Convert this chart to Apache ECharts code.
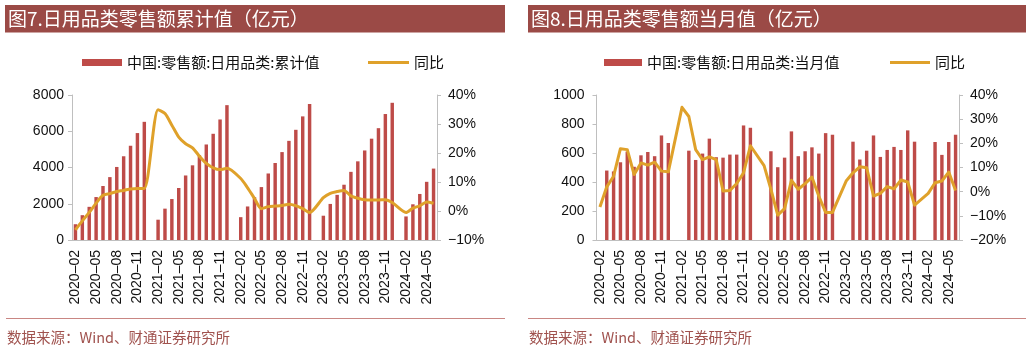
<!DOCTYPE html>
<html>
<head>
<meta charset="utf-8">
<script src="https://cdn.jsdelivr.net/npm/echarts@6/dist/echarts.min.js"></script>
<style>
html,body{margin:0;padding:0;background:#fff;}
#c{width:1032px;height:349px;}
</style>
</head>
<body>
<div id="c"></div>
<script>
const categories = [
  '2020-02','2020-03','2020-04','2020-05','2020-06','2020-07','2020-08','2020-09','2020-10','2020-11','2020-12',
  '2021-01','2021-02','2021-03','2021-04','2021-05','2021-06','2021-07','2021-08','2021-09','2021-10','2021-11','2021-12',
  '2022-01','2022-02','2022-03','2022-04','2022-05','2022-06','2022-07','2022-08','2022-09','2022-10','2022-11','2022-12',
  '2023-01','2023-02','2023-03','2023-04','2023-05','2023-06','2023-07','2023-08','2023-09','2023-10','2023-11','2023-12',
  '2024-01','2024-02','2024-03','2024-04','2024-05','2024-06'
];
// Chart 1: cumulative value (亿元) and YoY (%)
const cumValues = [
  870,1370,1830,2370,2980,3470,4030,4620,5200,5900,6520,
  null,1120,1730,2260,2870,3560,4120,4680,5270,5860,6650,7440,
  null,1260,1850,2360,2920,3670,4250,4850,5470,6080,6820,7500,
  null,1340,1990,2490,3050,3760,4340,4940,5590,6170,6950,7570,
  null,1300,1970,2540,3210,3940
];
const cumYoY = [
  -6.5,-3.4,-0.5,2.7,5.4,6.0,6.7,7.1,7.6,7.8,7.8,
  null,34.9,33.6,29.6,25.5,23.2,21.8,18.9,16.4,14.9,14.3,14.7,
  null,11.2,8.0,4.3,0.8,1.5,1.7,1.9,2.3,1.8,0.8,-0.5,
  null,4.6,6.1,6.7,7.1,5.2,4.4,3.9,3.8,3.8,3.9,2.9,
  null,-0.5,1.0,1.8,3.1,2.7
];
// Chart 2: monthly value (亿元) and YoY (%)
const monValues = [
  null,479,473,536,610,505,584,607,578,721,669,
  null,null,616,552,596,699,571,568,589,589,790,774,
  null,null,612,502,568,749,578,612,639,596,737,726,
  null,null,678,555,616,721,573,621,642,621,756,678,
  null,null,676,587,676,726
];
const monYoY = [
  -6.3,2.0,6.4,17.8,17.4,7.1,11.9,11.0,12.2,8.5,8.2,
  null,34.9,31.1,17.4,13.3,14.4,13.3,0.3,0.5,3.4,7.8,19.0,
  null,10.8,1.0,-9.7,-7.0,4.7,1.0,3.3,6.0,-1.8,-8.6,-8.6,
  null,4.4,7.8,10.3,9.9,-1.8,-0.7,2.1,1.2,4.8,4.0,-5.6,
  null,-0.7,3.7,4.4,8.1,0.5
];
const leftTicks1 = ['0','2000','4000','6000','8000'];
const rightTicks1 = ['\u221210%','0%','10%','20%','30%','40%'];
const leftTicks2 = ['0','200','400','600','800','1000'];
const rightTicks2 = ['\u221220%','\u221210%','0%','10%','20%','30%','40%'];

const title1 = '图7.日用品类零售额累计值（亿元）';
const title2 = '图8.日用品类零售额当月值（亿元）';
const barName1 = '中国:零售额:日用品类:累计值';
const barName2 = '中国:零售额:日用品类:当月值';
const lineName = '同比';
const source = '数据来源：Wind、财通证券研究所';

const BAR = '#BE4B48';
const LINE = '#DFA12A';
const HEAD = '#9B4A46';
const AXIS = '#BFBFBF';
const NUMFONT = 'Liberation Sans, Arial, sans-serif';
const CJK = 'Noto Sans CJK SC, sans-serif';

function tickFmt(arr, min, step){ return v => arr[Math.round((v - min) / step)] || ''; }

function yAxis(grid, pos, min, max, step, labels, margin){
  return {
    type:'value', gridIndex:grid, position:pos, min:min, max:max, interval:step,
    axisLine:{show:true, lineStyle:{color:AXIS, width:1}},
    axisTick:{show:true, length:4, lineStyle:{color:AXIS}},
    splitLine:{show:false},
    axisLabel:{fontSize:14, color:'#111', fontFamily:NUMFONT, margin:margin, formatter:tickFmt(labels, min, step)}
  };
}
function xAxis(grid){
  return {
    type:'category', gridIndex:grid, data:categories, boundaryGap:true,
    axisLine:{show:true, lineStyle:{color:AXIS, width:1}},
    axisTick:{show:false},
    axisLabel:{rotate:90, interval:2, fontSize:14, color:'#111', fontFamily:NUMFONT, margin:10,
      formatter: v => v.replace('-', '\u2013')}
  };
}

const chart = echarts.init(document.getElementById('c'), null, {renderer:'canvas'});
chart.setOption({
  animation:false,
  backgroundColor:'#fff',
  grid:[
    {left:72, top:95, width:365, height:145},
    {left:596.5, top:95, width:362.5, height:145}
  ],
  xAxis:[xAxis(0), xAxis(1)],
  yAxis:[
    yAxis(0,'left',0,8000,2000,leftTicks1,8),
    yAxis(0,'right',-10,40,10,rightTicks1,11),
    yAxis(1,'left',0,1000,200,leftTicks2,12),
    yAxis(1,'right',-20,40,10,rightTicks2,11)
  ],
  legend:[
    {data:[barName1], left:77, top:50, itemWidth:40, itemHeight:7, icon:'rect',
      textStyle:{fontSize:15, color:'#111', fontFamily:CJK}},
    {data:[{name:lineName, icon:'rect', itemStyle:{color:LINE}}], left:363, top:50, itemWidth:41, itemHeight:3,
      textStyle:{fontSize:15, color:'#111', fontFamily:CJK}},
    {data:[barName2], left:599, top:50, itemWidth:38, itemHeight:7, icon:'rect',
      textStyle:{fontSize:15, color:'#111', fontFamily:CJK}},
    {data:[{name:lineName, icon:'rect', itemStyle:{color:LINE}}], left:885, top:50, itemWidth:40, itemHeight:3,
      textStyle:{fontSize:15, color:'#111', fontFamily:CJK}}
  ],
  series:[
    {name:barName1, type:'bar', xAxisIndex:0, yAxisIndex:0, data:cumValues, barWidth:'50%',
      itemStyle:{color:BAR}},
    {name:lineName, type:'line', xAxisIndex:0, yAxisIndex:1, data:cumYoY, connectNulls:true,
      showSymbol:false, smooth:0.25, lineStyle:{color:LINE, width:3}, itemStyle:{color:LINE}},
    {name:barName2, type:'bar', xAxisIndex:1, yAxisIndex:2, data:monValues, barWidth:'50%',
      itemStyle:{color:BAR}},
    {name:lineName, type:'line', xAxisIndex:1, yAxisIndex:3, data:monYoY, connectNulls:true,
      showSymbol:false, smooth:false, lineStyle:{color:LINE, width:3, join:'round'}, itemStyle:{color:LINE}}
  ],
  graphic:[
    {type:'rect', shape:{x:5, y:5, width:500, height:27.5}, style:{fill:HEAD}, silent:true},
    {type:'rect', shape:{x:528, y:5, width:498, height:27.5}, style:{fill:HEAD}, silent:true},
    {type:'text', x:8, y:19, style:{text:title1, fill:'#fff', font:'19px ' + CJK, textVerticalAlign:'middle'}, silent:true},
    {type:'text', x:531, y:19, style:{text:title2, fill:'#fff', font:'19px ' + CJK, textVerticalAlign:'middle'}, silent:true},
    {type:'line', shape:{x1:6, y1:318.5, x2:505, y2:318.5}, style:{stroke:'#C98683', lineWidth:1}, silent:true},
    {type:'line', shape:{x1:528, y1:318.5, x2:1026, y2:318.5}, style:{stroke:'#C98683', lineWidth:1}, silent:true},
    {type:'text', x:7, y:337, style:{text:source, fill:'#A0524E', font:'14.5px ' + CJK, textVerticalAlign:'middle'}, silent:true},
    {type:'text', x:529, y:337, style:{text:source, fill:'#A0524E', font:'14.5px ' + CJK, textVerticalAlign:'middle'}, silent:true}
  ]
});
</script>
</body>
</html>
